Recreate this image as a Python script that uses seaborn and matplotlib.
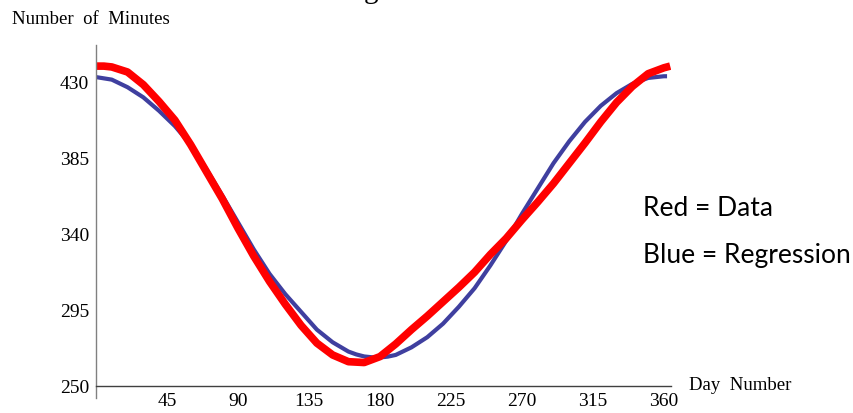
import matplotlib
matplotlib.use("Agg")
import matplotlib.pyplot as plt
import seaborn as sns
import pandas as pd

# ---- data ----
data_days = [0, 5, 10, 20, 30, 40, 50, 60, 70, 80, 90, 100, 110, 120, 130, 140,
             150, 160, 170, 180, 190, 200, 210, 220, 230, 240, 250, 260, 270,
             280, 290, 300, 310, 320, 330, 340, 350, 360, 364]
data_minutes = [439.5, 439.5, 439, 436, 428.5, 418.5, 407.5, 393, 377, 361,
                343.5, 327, 312, 298.5, 286, 275.5, 268.5, 264.5, 264, 267.5,
                275, 283.5, 291.5, 300, 308.5, 317.5, 328, 337.5, 348.5, 359,
                370, 382, 394, 406.5, 418, 427.5, 435, 438.5, 439.5]

reg_days = [0, 10, 20, 30, 40, 50, 60, 70, 80, 90, 100, 110, 120, 130, 140,
            150, 160, 165, 170, 175, 180, 185, 190, 200, 210, 220, 230, 240,
            250, 260, 270, 280, 290, 300, 310, 320, 330, 340, 350, 360, 362]
reg_minutes = [433, 431.5, 427, 421, 413, 404, 393, 378.5, 363, 347, 331,
               316.5, 304.5, 294, 283.5, 276, 270.5, 268.8, 267.6, 267.1, 267,
               267.5, 268.5, 273, 279, 287, 297, 308, 321.5, 336, 352, 367,
               382, 395, 406.5, 416, 423.5, 429, 432.5, 433.5, 433.5]

x_ticks = [45, 90, 135, 180, 225, 270, 315, 360]
y_ticks = [250, 295, 340, 385, 430]

sns.set_style("white")
plt.rcParams["font.family"] = ["Liberation Serif", "DejaVu Serif"]
plt.rcParams["text.color"] = "black"

fig = plt.figure(figsize=(8.54, 4.13), dpi=100)
W, H = 854, 413
ax = fig.add_axes([96 / W, 15 / H, (671 - 96) / W, (398 - 45) / H])

df_data = pd.DataFrame({"day": data_days, "minutes": data_minutes})
df_reg = pd.DataFrame({"day": reg_days, "minutes": reg_minutes})

sns.lineplot(data=df_reg, x="day", y="minutes", ax=ax, color="#3f3f9f",
             linewidth=3.0, sort=False)
sns.lineplot(data=df_data, x="day", y="minutes", ax=ax, color="#ff0000",
             linewidth=5.5, sort=False)
for ln in ax.lines:
    ln.set_solid_joinstyle("round")
    ln.set_solid_capstyle("butt")

ax.set_xlim(0, 364.5)
ax.set_ylim(243, 452)
ax.set_xlabel("")
ax.set_ylabel("")

for s in ["top", "right"]:
    ax.spines[s].set_visible(False)
ax.spines["bottom"].set_position(("data", 250))
ax.spines["left"].set_color("#808080")
ax.spines["bottom"].set_color("#404040")
ax.spines["left"].set_linewidth(1.0)
ax.spines["bottom"].set_linewidth(1.0)

ax.set_xticks(x_ticks)
ax.set_yticks(y_ticks)
ax.tick_params(axis="both", direction="in", length=4, width=0.8,
               colors="#606060", labelcolor="black", labelsize=14)
ax.tick_params(axis="x", pad=5)
ax.tick_params(axis="y", pad=5)

ax.text(376, 250.5, "Day  Number", fontsize=13.5, va="center", ha="left",
        clip_on=False, color="black")
fig.text(12 / W, 1 - 20 / H, "Number  of  Minutes", fontsize=13.5,
         va="center", ha="left", color="black")

fig.text(643 / W, 1 - 216 / H, "Red = Data", fontsize=19, va="baseline",
         ha="left", family=["Lato", "DejaVu Sans"], color="black")
fig.text(643 / W, 1 - 263 / H, "Blue = Regression", fontsize=19,
         va="baseline", ha="left", family=["Lato", "DejaVu Sans"],
         color="black")

# clipped title remnant at the very top (as in the reference)
fig.text(371 / W, 1 + 2 / H, "g", fontsize=21, va="baseline", ha="center",
         color="black")

fig.savefig("out.png", dpi=100)
